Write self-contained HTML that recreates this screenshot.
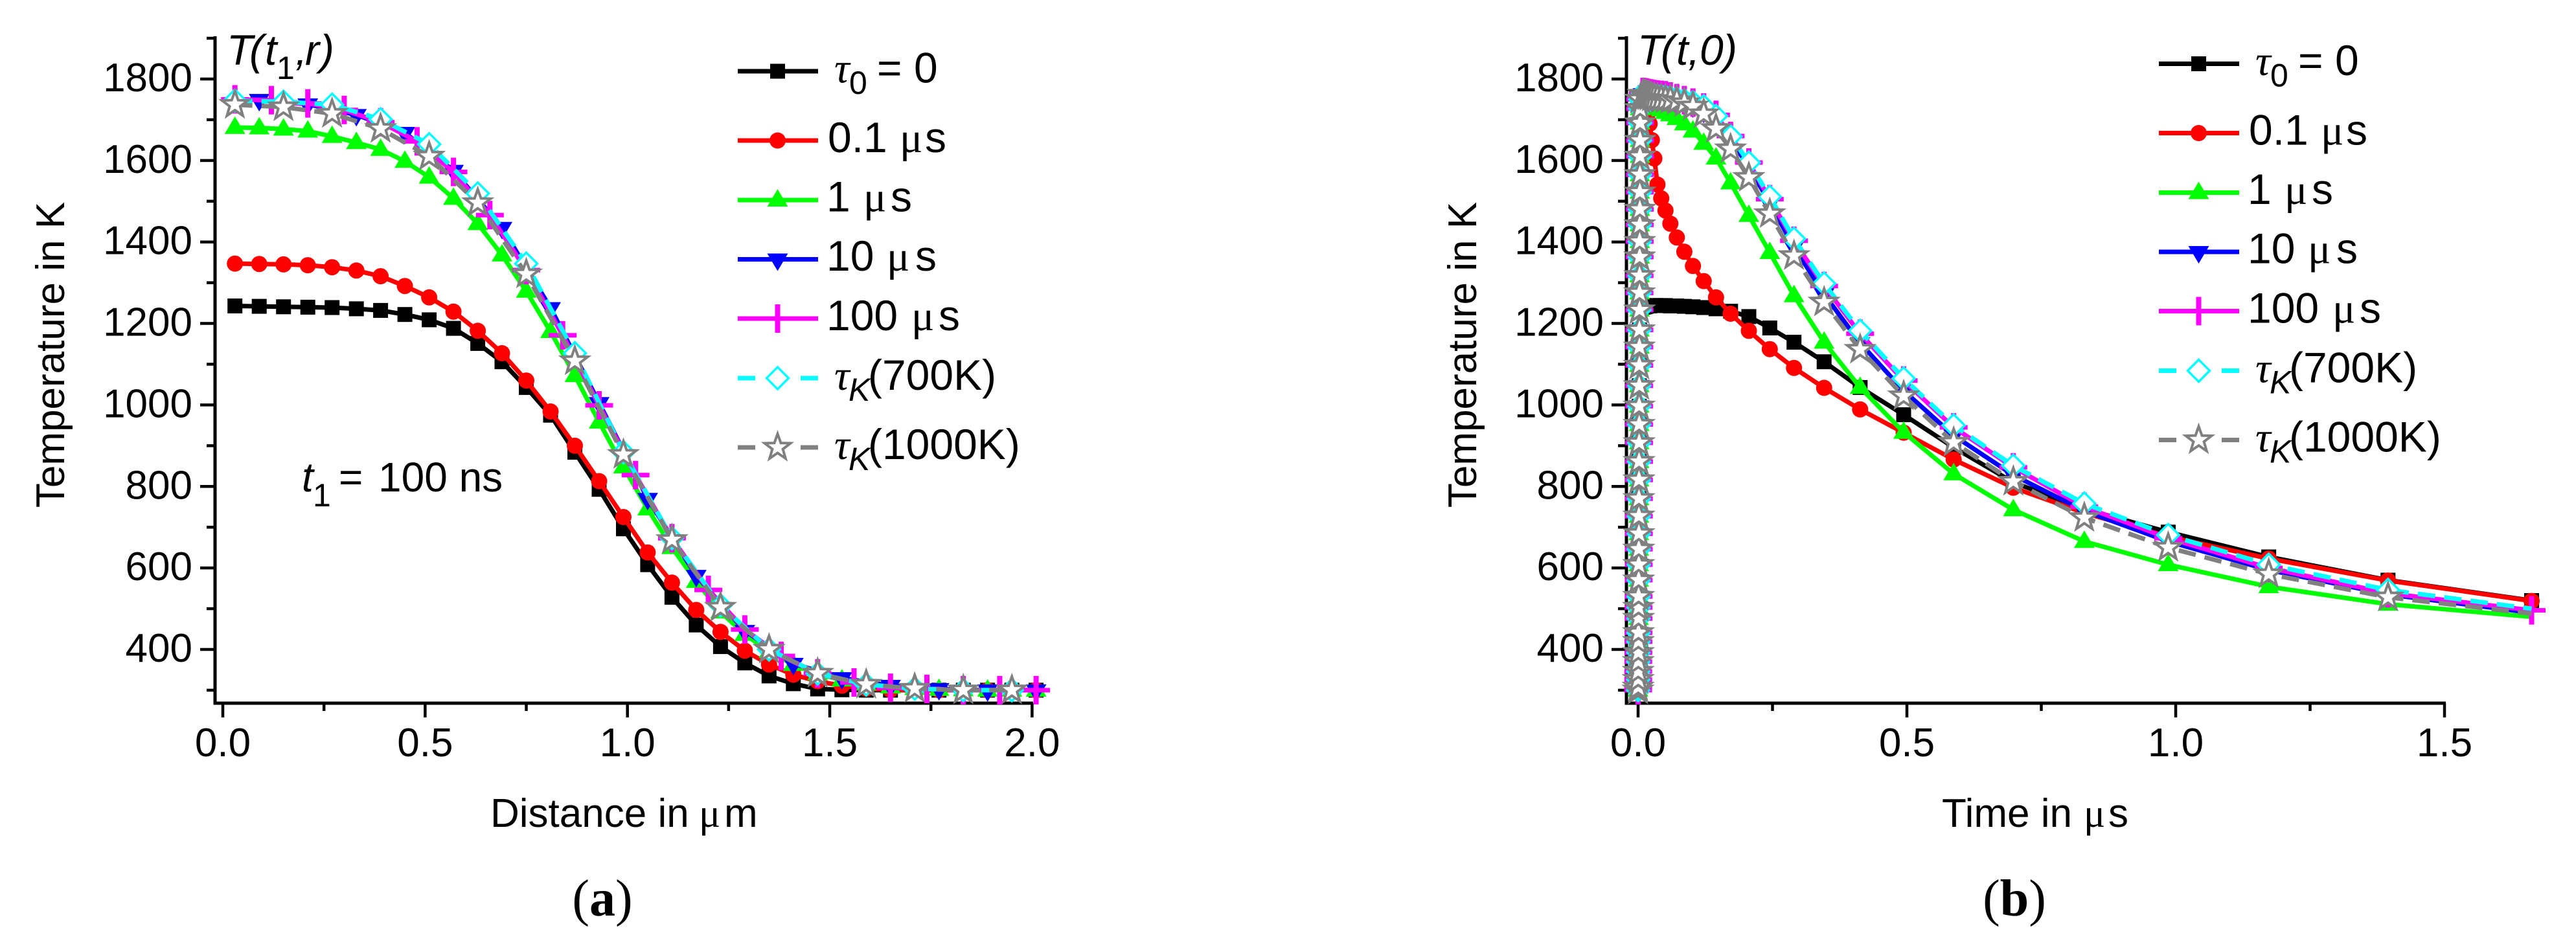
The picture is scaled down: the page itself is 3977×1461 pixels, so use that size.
<!DOCTYPE html>
<html lang="en">
<head>
<meta charset="utf-8">
<title>Temperature profiles</title>
<style>
html,body{margin:0;padding:0;background:#fff;width:3977px;height:1461px;overflow:hidden}
svg{display:block}
text{font-family:"Liberation Sans",sans-serif;fill:#000}
.serif{font-family:"Liberation Serif",serif}
.it{font-style:italic}
.leg{font-size:66px}
.sub{font-size:50px}
</style>
</head>
<body>
<svg id="fig" xmlns="http://www.w3.org/2000/svg" width="3977" height="1461" viewBox="0 0 3977 1461">
  <rect width="3977" height="1461" fill="#fff"/>
  <g id="panelA"></g>
  <g id="panelB"></g>

  <!-- panel a text -->
  <text x="99" y="548" font-size="62" text-anchor="middle" transform="rotate(-90 99 548)">Temperature in K</text>
  <text y="1277" font-size="62"><tspan x="757">Distance in </tspan><tspan x="1079" class="serif">μ</tspan><tspan x="1118">m</tspan></text>
  <text y="100" font-size="66" class="it"><tspan x="350">T</tspan><tspan x="385">(</tspan><tspan x="409">t</tspan><tspan x="427" y="122" font-size="50" font-style="normal">1</tspan><tspan x="456" y="100">,</tspan><tspan x="471">r</tspan><tspan x="494">)</tspan></text>
  <text y="759" font-size="64"><tspan x="466" class="it">t</tspan><tspan x="483" y="782" font-size="50">1</tspan><tspan x="523" y="759">=</tspan><tspan x="584">100 ns</tspan></text>
  <text x="930" y="1414" font-size="80" text-anchor="middle" class="serif">(<tspan font-weight="bold">a</tspan>)</text>

  <!-- panel b text -->
  <text x="2279" y="548" font-size="62" text-anchor="middle" transform="rotate(-90 2279 548)">Temperature in K</text>
  <text y="1277" font-size="62"><tspan x="2998">Time in </tspan><tspan x="3217" class="serif">μ</tspan><tspan x="3255">s</tspan></text>
  <text y="100" font-size="66" class="it"><tspan x="2528">T</tspan><tspan x="2564">(</tspan><tspan x="2588">t</tspan><tspan x="2606">,</tspan><tspan x="2624">0</tspan><tspan x="2660">)</tspan></text>
  <text x="3110" y="1414" font-size="80" text-anchor="middle" class="serif">(<tspan font-weight="bold">b</tspan>)</text>

  <!-- legend a -->
  <g id="legendA">
    <text class="leg" y="127.5"><tspan x="1288" class="serif it">τ</tspan><tspan x="1311" y="145" class="sub">0</tspan><tspan x="1354" y="127.5">=</tspan><tspan x="1411">0</tspan></text>
    <text class="leg" y="235"><tspan x="1278">0.1</tspan><tspan x="1389" class="serif">μ</tspan><tspan x="1428">s</tspan></text>
    <text class="leg" y="326.5"><tspan x="1276">1</tspan><tspan x="1333" class="serif">μ</tspan><tspan x="1375">s</tspan></text>
    <text class="leg" y="418"><tspan x="1276">10</tspan><tspan x="1369" class="serif">μ</tspan><tspan x="1413">s</tspan></text>
    <text class="leg" y="510"><tspan x="1276">100</tspan><tspan x="1407" class="serif">μ</tspan><tspan x="1449">s</tspan></text>
    <text class="leg" y="602"><tspan x="1288" class="serif it">τ</tspan><tspan x="1310" y="619" class="sub it">K</tspan><tspan x="1340" y="602">(700K)</tspan></text>
    <text class="leg" y="709"><tspan x="1288" class="serif it">τ</tspan><tspan x="1310" y="726" class="sub it">K</tspan><tspan x="1340" y="709">(1000K)</tspan></text>
  </g>
  <!-- legend b -->
  <g id="legendB" transform="translate(2194,-11.5)">
    <text class="leg" y="127.5"><tspan x="1288" class="serif it">τ</tspan><tspan x="1311" y="145" class="sub">0</tspan><tspan x="1354" y="127.5">=</tspan><tspan x="1411">0</tspan></text>
    <text class="leg" y="235"><tspan x="1278">0.1</tspan><tspan x="1389" class="serif">μ</tspan><tspan x="1428">s</tspan></text>
    <text class="leg" y="326.5"><tspan x="1276">1</tspan><tspan x="1333" class="serif">μ</tspan><tspan x="1375">s</tspan></text>
    <text class="leg" y="418"><tspan x="1276">10</tspan><tspan x="1369" class="serif">μ</tspan><tspan x="1413">s</tspan></text>
    <text class="leg" y="510"><tspan x="1276">100</tspan><tspan x="1407" class="serif">μ</tspan><tspan x="1449">s</tspan></text>
    <text class="leg" y="602"><tspan x="1288" class="serif it">τ</tspan><tspan x="1310" y="619" class="sub it">K</tspan><tspan x="1340" y="602">(700K)</tspan></text>
    <text class="leg" y="709"><tspan x="1288" class="serif it">τ</tspan><tspan x="1310" y="726" class="sub it">K</tspan><tspan x="1340" y="709">(1000K)</tspan></text>
  </g>
</svg>
<script>
// ---------- chart data ----------
var yMajorTicks = [400,600,800,1000,1200,1400,1600,1800];
var yMinorTicks = [300,500,700,900,1100,1300,1500,1700,1900];
var xMajorTicksA = ["0.0","0.5","1.0","1.5","2.0"];
var xMinorTicksA = [0.25,0.75,1.25,1.75];
var xMajorTicksB = ["0.0","0.5","1.0","1.5"];
var xMinorTicksB = [0.25,0.75,1.25];

// Panel a: distance in um
var rBlackRedGreen = [0.03,0.09,0.15,0.21,0.27,0.33,0.39,0.45,0.51,0.57,0.63,0.69,0.75,0.81,0.87,0.93,0.99,1.05,1.11,1.17,1.23,1.29,1.35,1.41,1.47,1.53,1.59,1.65,1.71,1.77,1.83,1.89,1.95,2.01];
var rBlue = [0.09,0.21,0.33,0.45,0.57,0.69,0.81,0.93,1.05,1.17,1.29,1.41,1.53,1.65,1.77,1.89,2.01];
var rMagenta = [0.03,0.12,0.21,0.30,0.39,0.48,0.57,0.66,0.75,0.84,0.93,1.02,1.11,1.20,1.29,1.38,1.47,1.56,1.65,1.74,1.83,1.92,2.01];
var rCyanGray = [0.03,0.15,0.27,0.39,0.51,0.63,0.75,0.87,0.99,1.11,1.23,1.35,1.47,1.59,1.71,1.83,1.95];
var aBlack = [1243,1242,1241,1240,1239,1236,1232,1222,1209,1188,1151,1106,1043,975,884,793,696,608,528,460,407,367,335,316,303,301,300,300,300,300,300,300,300,300];
var aRed = [1347,1346,1345,1343,1338,1330,1316,1292,1264,1229,1182,1127,1060,984,900,813,725,638,564,497,443,397,363,338,322,311,304,301,300,300,300,300,300,300];
var aGreen = [1681,1680,1677,1672,1659,1644,1627,1598,1559,1507,1445,1368,1279,1180,1072,958,848,745,650,567,492,437,395,363,340,325,315,308,304,302,301,300,300,300];
var aBlue = [1749,1738,1712,1668,1575,1435,1238,1005,770,581,446,365,330,311,303,300,300];
var aMagenta = [1750,1748,1740,1724,1694,1647,1572,1466,1331,1171,999,828,673,546,449,384,341,319,306,303,300,300,300];
var aCyan = [1747,1744,1737,1701,1640,1519,1347,1127,884,673,508,400,341,314,304,300,300];
var aGray = [1737,1731,1715,1678,1610,1496,1321,1108,878,669,503,400,341,314,304,300,300];

// Panel b: time in us
var bRiseTimes = [0,0.0001,0.0002,0.0003,0.0004,0.0005,0.0006,0.0007,0.0008,0.0009,0.001,0.0011,0.0012,0.0013,0.0014,0.0015,0.0016,0.0017,0.0018,0.0019,0.002,0.0021,0.0022,0.0023,0.0024,0.0025,0.0026,0.0027,0.0028,0.0029,0.003,0.0031,0.0032,0.0033,0.0034,0.0035,0.0036,0.0037,0.0038,0.0039];
var bRiseTemps = [300,307,326,346,370,392,419,441,476,503,530,570,608,646,684,727,770,816,861,907,952,997,1047,1097,1142,1184,1233,1275,1317,1363,1401,1442,1480,1522,1565,1610,1649,1692,1727,1750];
var bDecayTimes = [0.009,0.0107,0.0127,0.0151,0.018,0.0214,0.0255,0.0303,0.036,0.043,0.051,0.060,0.072,0.086,0.102,0.122,0.145,0.172,0.206,0.245,0.29,0.346,0.413,0.494,0.587,0.698,0.83,0.986,1.173,1.395,1.662];
var bBlack = [1240,1241,1241,1242,1243,1243,1244,1244,1244,1244,1244,1243,1243,1242,1241,1239,1236,1230,1217,1189,1154,1106,1043,976,896,810,745,688,627,570,520];
var bRed = [1768,1762,1750,1735,1715,1690,1650,1605,1541,1507,1477,1445,1411,1376,1341,1304,1264,1224,1182,1137,1091,1042,989,932,866,797,735,677,623,569,519];
var bGreen = [1735,1735,1734,1734,1733,1732,1731,1730,1728,1724,1718,1712,1703,1690,1672,1642,1606,1545,1465,1374,1268,1154,1043,933,831,743,665,608,554,511,480];
var bBlue = [1763,1763,1762,1762,1761,1760,1759,1758,1757,1756,1755,1752,1748,1742,1733,1720,1700,1650,1585,1495,1388,1272,1152,1035,925,828,740,665,595,535,490];
var bMagenta = [1768,1768,1767,1767,1766,1765,1764,1763,1762,1761,1760,1757,1753,1748,1742,1730,1712,1660,1595,1505,1403,1292,1175,1060,945,847,750,673,600,538,496];
var bCyan = [1765,1765,1764,1764,1763,1762,1761,1760,1759,1758,1757,1755,1752,1748,1743,1733,1709,1659,1595,1511,1408,1298,1182,1065,950,851,758,681,608,546,500];
var bGray = [1762,1761,1760,1759,1758,1757,1755,1753,1752,1751,1750,1749,1746,1741,1733,1714,1678,1628,1558,1469,1366,1252,1136,1022,908,812,723,650,585,528,488];

// ---------- drawing ----------
var NS = 'http://www.w3.org/2000/svg';
function make(tag, attrs, parent) {
  var e = document.createElementNS(NS, tag);
  for (var k in attrs) e.setAttribute(k, attrs[k]);
  parent.appendChild(e);
  return e;
}
function yScale(T) { return 1003 - (T - 400) * 0.6293; }
function xScaleA(v) { return 344 + 624.7 * v; }
function xScaleB(v) { return 2529 + 830 * v; }

function drawMarker(kind, color, x, y, parent) {
  var g = make('g', {transform: 'translate(' + x.toFixed(1) + ',' + y.toFixed(1) + ')'}, parent);
  
  
  if (kind === 'square') make('rect', {x: -11.5, y: -11.5, width: 23, height: 23, fill: color}, g);
  if (kind === 'circle') make('circle', {r: 12.5, fill: color}, g);
  if (kind === 'up') make('polygon', {points: '0,-17 16,10 -16,10', fill: color}, g);
  if (kind === 'down') make('polygon', {points: '0,18 16,-9 -16,-9', fill: color}, g);
  if (kind === 'plus') {
    make('rect', {x: -4, y: -22, width: 8, height: 44, fill: color}, g);
    make('rect', {x: -21.5, y: -3.5, width: 43, height: 7, fill: color}, g);
  }
  if (kind === 'diamond') make('polygon', {points: '0,-17 17,0 0,17 -17,0', fill: '#fff', stroke: color, 'stroke-width': 3.5}, g);
  if (kind === 'star') {
    var pts = [];
    for (var i = 0; i < 10; i++) {
      var rad = i % 2 ? 8.5 : 21;
      var ang = -Math.PI / 2 + i * Math.PI / 5;
      pts.push((rad * Math.cos(ang)).toFixed(1) + ',' + (rad * Math.sin(ang)).toFixed(1));
    }
    make('polygon', {points: pts.join(' '), fill: '#fff', stroke: color, 'stroke-width': 4}, g);
  }
}

function drawAxes(panel, axisLeft, axisRight, xScale, majors, minors, labelRight) {
  var axY = make('line', {x1: axisLeft, x2: axisLeft, y1: 56, y2: 1088, stroke: '#000', 'stroke-width': 5}, panel);
  
  
  var axX = make('line', {x1: axisLeft - 2.5, x2: axisRight, y1: 1086, y2: 1086, stroke: '#000', 'stroke-width': 5}, panel);
  
  
  yMajorTicks.forEach(function (T) {
    var y = yScale(T);
    var t = make('line', {x1: axisLeft - 23, x2: axisLeft, y1: y, y2: y, stroke: '#000', 'stroke-width': 4.5}, panel);
    
    
    var l = make('text', {x: labelRight, y: y + 19, 'font-size': 62, 'text-anchor': 'end'}, panel);
    
    
    l.textContent = String(T);
  });
  yMinorTicks.forEach(function (T) {
    var y = yScale(T);
    var t = make('line', {x1: axisLeft - 13, x2: axisLeft, y1: y, y2: y, stroke: '#000', 'stroke-width': 4.5}, panel);
    
    
  });
  majors.forEach(function (s) {
    var x = xScale(parseFloat(s));
    var t = make('line', {x1: x, x2: x, y1: 1086, y2: 1108, stroke: '#000', 'stroke-width': 4.5}, panel);
    
    
    var l = make('text', {x: x, y: 1168, 'font-size': 62, 'text-anchor': 'middle'}, panel);
    
    
    l.textContent = s;
  });
  minors.forEach(function (v) {
    var x = xScale(v);
    var t = make('line', {x1: x, x2: x, y1: 1086, y2: 1098, stroke: '#000', 'stroke-width': 4.5}, panel);
    
    
  });
}

function drawSeries(panel, name, color, kind, dashed, xs, ys, xScale, skipLastMarker) {
  var g = make('g', {}, panel);
  
  
  var pts = xs.map(function (v, i) { return xScale(v).toFixed(1) + ',' + yScale(ys[i]).toFixed(1); }).join(' ');
  var attrs = {points: pts, fill: 'none', stroke: color, 'stroke-width': 7, 'stroke-linejoin': 'round'};
  if (dashed) attrs['stroke-dasharray'] = '27 14';
  var line = make('polyline', attrs, g);
  
  
  var n = skipLastMarker ? xs.length - 1 : xs.length;
  for (var i = 0; i < n; i++) drawMarker(kind, color, xScale(xs[i]), yScale(ys[i]), g);
}

function risePlus(xs, ys) {
  var peak = ys[0];
  var times = [], temps = [];
  bRiseTemps.forEach(function (T, i) { if (T < peak) { times.push(bRiseTimes[i]); temps.push(T); } });
  return {x: times.concat(xs), y: temps.concat(ys)};
}

var panelA = document.getElementById('panelA');
var panelB = document.getElementById('panelB');
drawAxes(panelA, 332, 1595, xScaleA, xMajorTicksA, xMinorTicksA, 297);
drawAxes(panelB, 2511, 3776, xScaleB, xMajorTicksB, xMinorTicksB, 2476);

drawSeries(panelA, 'tau0-0', '#000000', 'square', false, rBlackRedGreen, aBlack, xScaleA, false);
drawSeries(panelA, '0.1us', '#ff0000', 'circle', false, rBlackRedGreen, aRed, xScaleA, false);
drawSeries(panelA, '1us', '#00ff00', 'up', false, rBlackRedGreen, aGreen, xScaleA, false);
drawSeries(panelA, '10us', '#0000ff', 'down', false, rBlue, aBlue, xScaleA, false);
drawSeries(panelA, '100us', '#ff00ff', 'plus', false, rMagenta, aMagenta, xScaleA, false);
drawSeries(panelA, 'tauk-700k', '#00ffff', 'diamond', true, rCyanGray, aCyan, xScaleA, false);
drawSeries(panelA, 'tauk-1000k', '#808080', 'star', true, rCyanGray, aGray, xScaleA, false);

var sb;
sb = risePlus(bDecayTimes, bBlack);
drawSeries(panelB, 'tau0-0', '#000000', 'square', false, sb.x, sb.y, xScaleB, false);
sb = risePlus(bDecayTimes, bRed);
drawSeries(panelB, '0.1us', '#ff0000', 'circle', false, sb.x, sb.y, xScaleB, false);
sb = risePlus(bDecayTimes, bGreen);
drawSeries(panelB, '1us', '#00ff00', 'up', false, sb.x, sb.y, xScaleB, true);
sb = risePlus(bDecayTimes, bBlue);
drawSeries(panelB, '10us', '#0000ff', 'down', false, sb.x, sb.y, xScaleB, true);
sb = risePlus(bDecayTimes, bMagenta);
drawSeries(panelB, '100us', '#ff00ff', 'plus', false, sb.x, sb.y, xScaleB, false);
sb = risePlus(bDecayTimes, bCyan);
drawSeries(panelB, 'tauk-700k', '#00ffff', 'diamond', true, sb.x, sb.y, xScaleB, true);
sb = risePlus(bDecayTimes, bGray);
drawSeries(panelB, 'tauk-1000k', '#808080', 'star', true, sb.x, sb.y, xScaleB, true);

// legend keys
var legendColors = ['#000000','#ff0000','#00ff00','#0000ff','#ff00ff','#00ffff','#808080'];
var legendKinds = ['square','circle','up','down','plus','diamond','star'];
var legendRows = [110,217,309,400.5,492,584,691];
['legendA','legendB'].forEach(function (id) {
  var host = document.getElementById(id);
  legendRows.forEach(function (y, i) {
    var g = make('g', {}, host);
    
    
    if (i < 5) {
      make('line', {x1: 1139, x2: 1263, y1: y, y2: y, stroke: legendColors[i], 'stroke-width': 7}, g);
    } else {
      make('line', {x1: 1139, x2: 1166, y1: y, y2: y, stroke: legendColors[i], 'stroke-width': 7}, g);
      make('line', {x1: 1236, x2: 1263, y1: y, y2: y, stroke: legendColors[i], 'stroke-width': 7}, g);
    }
    drawMarker(legendKinds[i], legendColors[i], 1200.5, y, g);
  });
});
</script>
</body>
</html>
